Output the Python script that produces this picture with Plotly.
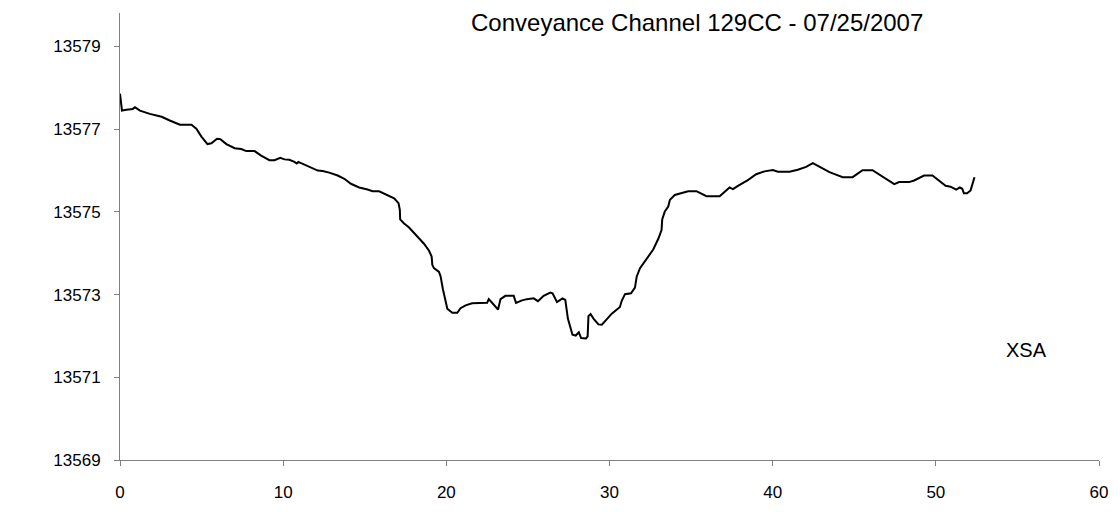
import plotly.graph_objects as go

# Cross-section survey along the conveyance channel
station = [
    0.00, 0.12, 0.40, 0.78, 0.92, 1.22, 1.83, 2.34, 2.55, 3.05, 3.67, 4.38, 4.68, 4.99,
    5.36, 5.60, 5.95, 6.15, 6.52, 7.03, 7.43, 7.74, 8.25, 8.65, 9.16, 9.47, 9.82, 10.08,
    10.38, 10.69, 10.83, 10.93, 11.30, 11.71, 12.12, 12.42, 12.83, 13.34, 13.75, 14.15,
    14.66, 15.17, 15.48, 15.88, 16.29, 16.80, 17.07, 17.15, 17.17, 17.41, 17.70, 18.00,
    18.33, 18.63, 18.94, 19.10, 19.14, 19.24, 19.55, 19.65, 19.79, 19.92, 20.06, 20.36,
    20.67, 20.87, 21.18, 21.58, 21.99, 22.50, 22.60, 22.91, 23.17, 23.32, 23.62, 24.13,
    24.27, 24.64, 24.94, 25.35, 25.62, 25.96, 26.37, 26.51, 26.78, 27.12, 27.29, 27.45,
    27.59, 27.73, 27.93, 28.12, 28.26, 28.56, 28.66, 28.71, 28.84, 29.02, 29.32, 29.53,
    29.73, 30.14, 30.64, 30.75, 30.95, 31.32, 31.56, 31.67, 31.87, 32.38, 32.68, 32.99,
    33.19, 33.23, 33.39, 33.60, 33.70, 34.00, 34.41, 34.82, 35.33, 35.63, 35.94, 36.75,
    37.06, 37.36, 37.57, 37.87, 38.48, 38.99, 39.50, 40.01, 40.32, 41.03, 41.54, 42.05,
    42.46, 42.86, 43.48, 43.88, 44.29, 44.90, 45.51, 46.12, 46.53, 46.94, 47.45, 47.75,
    48.36, 48.67, 49.28, 49.79, 50.19, 50.60, 50.90, 51.25, 51.47, 51.62, 51.72, 51.92,
    52.13, 52.37,
]

elevation = [
    13577.86, 13577.45, 13577.47, 13577.49, 13577.53, 13577.45, 13577.37, 13577.31,
    13577.30, 13577.21, 13577.11, 13577.11, 13577.01, 13576.82, 13576.64, 13576.66,
    13576.77, 13576.76, 13576.64, 13576.54, 13576.52, 13576.47, 13576.47, 13576.36,
    13576.25, 13576.25, 13576.31, 13576.27, 13576.26, 13576.21, 13576.17, 13576.21,
    13576.14, 13576.06, 13576.00, 13575.99, 13575.95, 13575.88, 13575.80, 13575.68,
    13575.59, 13575.54, 13575.50, 13575.50, 13575.43, 13575.33, 13575.21, 13575.05,
    13574.82, 13574.72, 13574.63, 13574.50, 13574.35, 13574.23, 13574.06, 13573.92,
    13573.72, 13573.64, 13573.55, 13573.44, 13573.13, 13572.89, 13572.66, 13572.56,
    13572.56, 13572.67, 13572.74, 13572.79, 13572.80, 13572.80, 13572.89, 13572.75,
    13572.64, 13572.89, 13572.97, 13572.97, 13572.80, 13572.86, 13572.89, 13572.91,
    13572.84, 13572.97, 13573.05, 13573.03, 13572.82, 13572.91, 13572.87, 13572.42,
    13572.19, 13572.03, 13572.01, 13572.09, 13571.95, 13571.94, 13571.99, 13572.48,
    13572.53, 13572.42, 13572.28, 13572.27, 13572.36, 13572.54, 13572.70, 13572.85,
    13573.01, 13573.03, 13573.17, 13573.44, 13573.64, 13573.92, 13574.09, 13574.35,
    13574.56, 13574.82, 13575.01, 13575.13, 13575.29, 13575.41, 13575.45, 13575.50,
    13575.50, 13575.45, 13575.38, 13575.38, 13575.48, 13575.59, 13575.55, 13575.63,
    13575.77, 13575.91, 13575.98, 13576.01, 13575.97, 13575.97, 13576.02, 13576.09,
    13576.18, 13576.09, 13575.96, 13575.90, 13575.84, 13575.84, 13576.01, 13576.01,
    13575.90, 13575.81, 13575.67, 13575.72, 13575.72, 13575.76, 13575.88, 13575.88,
    13575.76, 13575.63, 13575.61, 13575.54, 13575.59, 13575.56, 13575.45, 13575.45,
    13575.52, 13575.84,
]

x_ticks = [0, 10, 20, 30, 40, 50, 60]
y_ticks = [13569, 13571, 13573, 13575, 13577, 13579]

title_text = "Conveyance Channel 129CC - 07/25/2007"
series_label = "XSA"

FONT = "Liberation Sans, Arial, sans-serif"
AXIS_GREY = "#808080"

fig = go.Figure()
fig.add_trace(go.Scatter(
    x=station, y=elevation, mode="lines",
    line=dict(color="black", width=2),
    showlegend=False, hoverinfo="skip",
))

axis_common = dict(
    showgrid=False, zeroline=False, showline=True,
    linecolor=AXIS_GREY, linewidth=1,
    ticks="outside", ticklen=5, tickwidth=1, tickcolor=AXIS_GREY,
    tickfont=dict(family=FONT, size=17, color="black"),
)

fig.update_layout(
    width=1120, height=514,
    margin=dict(l=120, r=18, t=13, b=42),
    paper_bgcolor="white", plot_bgcolor="white",
    xaxis=dict(range=[0, 60], tickvals=x_ticks, ticklabelstandoff=12, **axis_common),
    yaxis=dict(range=[13569, 13579.81], tickvals=y_ticks,
               ticktext=[str(v) for v in y_ticks], ticklabelstandoff=10, **axis_common),
    annotations=[
        dict(text=title_text, xref="paper", yref="paper", x=0.589, y=0.978,
             xanchor="center", yanchor="middle", showarrow=False,
             font=dict(family=FONT, size=24, color="black")),
        dict(text=series_label, xref="paper", yref="paper", x=0.926, y=0.245,
             xanchor="center", yanchor="middle", showarrow=False,
             font=dict(family=FONT, size=20, color="black")),
    ],
)

fig.write_html("out.html")
